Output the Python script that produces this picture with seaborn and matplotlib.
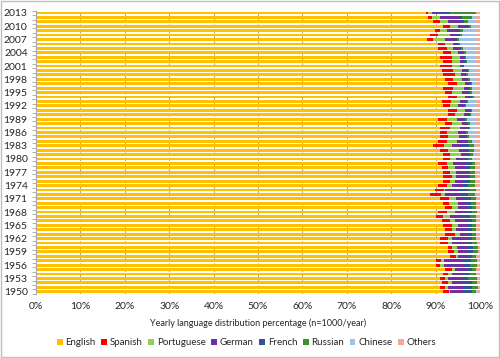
import numpy as np
import pandas as pd
import matplotlib
matplotlib.use("Agg")
import matplotlib.pyplot as plt
import seaborn as sns
from matplotlib.patches import Patch, Rectangle

years = list(range(1950, 2014))
languages = ["English", "Spanish", "Portuguese", "German", "French", "Russian", "Chinese", "Others"]
colors = ["#FFC000", "#FF0000", "#92D050", "#7030A0", "#2F5597", "#3F9130", "#9DC3E6", "#F4A896"]

english = [91.7, 91.0, 91.4, 91.0, 91.7, 92.1, 90.0, 90.2, 93.2, 92.9,
           92.9, 91.0, 91.0, 92.1, 92.1, 91.7, 91.4, 90.2, 90.6, 92.1,
           91.6, 91.0, 88.7, 89.9, 90.6, 91.7, 91.7, 91.7, 91.4, 90.6,
           91.7, 91.7, 91.0, 89.5, 90.6, 91.0, 91.0, 91.0, 92.1, 90.6,
           92.9, 92.9, 91.7, 91.4, 92.9, 92.1, 91.7, 92.9, 92.1, 91.7,
           91.4, 91.0, 91.7, 91.0, 91.7, 90.6, 90.6, 88.0, 88.7, 89.9,
           91.7, 89.5, 88.2, 87.8]
spanish = [1.4, 1.1, 1.5, 1.1, 1.1, 1.5, 1.1, 1.0, 1.5, 1.3,
           0.8, 1.9, 1.9, 2.3, 1.5, 1.9, 1.9, 1.5, 1.9, 1.5,
           1.5, 2.0, 2.6, 1.9, 1.9, 1.5, 1.9, 1.5, 1.5, 1.9,
           1.5, 1.5, 1.9, 2.3, 1.9, 1.9, 1.5, 2.3, 1.5, 1.9,
           1.5, 1.9, 1.5, 2.0, 1.9, 1.5, 2.3, 1.9, 1.9, 2.6,
           2.6, 2.6, 1.9, 2.6, 1.8, 1.9, 1.5, 1.5, 1.9, 1.1,
           1.5, 1.5, 0.9, 0.4]
portuguese = [0.1, 0.8, 0.8, 0.8, 0.8, 0.8, 0.8, 0.6, 0.4, 0.9,
              1.1, 0.8, 0.8, 1.1, 1.1, 1.5, 1.1, 1.5, 1.9, 1.5,
              1.9, 1.5, 0.8, 0.4, 1.1, 1.1, 1.1, 1.5, 1.5, 1.5,
              1.5, 2.6, 2.3, 1.9, 2.3, 2.3, 2.6, 2.3, 2.3, 2.3,
              1.9, 1.9, 1.9, 2.2, 1.9, 2.3, 2.3, 1.9, 1.9, 1.5,
              1.9, 1.9, 1.9, 1.9, 1.5, 1.5, 1.9, 2.6, 2.6, 1.5,
              1.9, 1.9, 1.9, 1.1]
german = [3.0, 3.4, 3.0, 3.0, 2.6, 2.6, 4.4, 4.3, 1.9, 2.3,
          2.6, 3.0, 3.4, 1.9, 1.9, 1.9, 2.6, 2.6, 2.3, 1.9,
          1.9, 1.9, 3.4, 3.0, 2.6, 1.9, 2.3, 2.3, 2.3, 2.6,
          1.5, 1.5, 1.5, 2.3, 2.3, 1.5, 1.5, 1.1, 1.1, 1.5,
          1.1, 1.1, 1.1, 1.2, 1.1, 1.5, 1.1, 1.1, 1.1, 0.8,
          1.1, 0.5, 1.0, 0.8, 1.1, 1.3, 0.8, 2.3, 1.9, 2.6,
          1.8, 3.0, 4.6, 1.3]
french = [1.9, 1.9, 1.5, 1.5, 1.5, 1.1, 1.5, 1.9, 1.1, 1.1,
          1.1, 1.5, 1.1, 0.8, 1.5, 1.1, 1.1, 1.9, 1.5, 1.1,
          1.1, 1.5, 1.9, 2.3, 1.1, 1.5, 0.8, 0.8, 1.1, 1.5,
          1.1, 0.4, 0.8, 1.5, 0.2, 0.3, 0.3, 0.8, 0.4, 0.4,
          0.3, 0.2, 0.4, 0.3, 0.3, 0.3, 0.4, 0.2, 0.4, 0.3,
          0.2, 0.3, 0.3, 0.3, 0.4, 0.4, 0.4, 0.4, 0.4, 0.5,
          0.7, 0.5, 0.3, 2.6]
russian = [1.1, 1.3, 1.1, 1.9, 1.5, 1.1, 1.6, 1.4, 1.1, 1.0,
           1.1, 1.2, 1.0, 1.0, 1.1, 1.1, 1.1, 1.5, 1.1, 1.1,
           1.1, 1.1, 1.5, 1.5, 1.5, 1.1, 1.1, 1.1, 1.1, 0.8,
           0.8, 0.8, 1.1, 1.1, 0.8, 0.5, 0.3, 0.3, 0.3, 0.4,
           0.3, 0.2, 0.3, 0.3, 0.5, 0.4, 0.4, 0.3, 0.4, 0.4,
           0.4, 0.2, 0.3, 0.3, 0.3, 0.4, 0.4, 0.4, 0.4, 0.6,
           0.4, 1.0, 2.2, 5.8]
chinese = [0.2, 0.0, 0.0, 0.0, 0.0, 0.0, 0.0, 0.0, 0.0, 0.0,
           0.0, 0.0, 0.0, 0.0, 0.0, 0.0, 0.0, 0.0, 0.0, 0.0,
           0.1, 0.2, 0.3, 0.2, 0.4, 0.4, 0.3, 0.3, 0.3, 0.3,
           1.1, 0.7, 0.6, 0.6, 1.1, 1.7, 2.0, 1.4, 1.5, 2.1,
           1.2, 0.9, 2.3, 1.8, 0.6, 1.1, 1.0, 0.9, 1.4, 1.9,
           1.6, 2.7, 2.1, 2.3, 2.4, 3.1, 3.6, 4.0, 3.3, 3.0,
           1.2, 1.8, 1.1, 0.2]
others = [0.6, 0.5, 0.7, 0.7, 0.8, 0.8, 0.6, 0.6, 0.8, 0.5,
          0.4, 0.6, 0.8, 0.8, 0.8, 0.8, 0.8, 0.8, 0.7, 0.8,
          0.8, 0.8, 0.8, 0.8, 0.8, 0.8, 0.8, 0.8, 0.8, 0.8,
          0.8, 0.8, 0.8, 0.8, 0.8, 0.8, 0.8, 0.8, 0.8, 0.8,
          0.8, 0.9, 0.8, 0.8, 0.8, 0.8, 0.8, 0.8, 0.8, 0.8,
          0.8, 0.8, 0.8, 0.8, 0.8, 0.8, 0.8, 0.8, 0.8, 0.8,
          0.8, 0.8, 0.8, 0.8]

sns.set_theme(style="white")
plt.rcParams["font.family"] = ["Lato", "DejaVu Sans"]

df = pd.DataFrame({"Year": [str(y) for y in years], "English": english, "Spanish": spanish,
                   "Portuguese": portuguese, "German": german, "French": french,
                   "Russian": russian, "Chinese": chinese, "Others": others})
order = [str(y) for y in years[::-1]]

fig = plt.figure(figsize=(5, 3.58), dpi=100)
ax = fig.add_axes([0.072, 0.179, 0.888, 0.791])
ax.set_axisbelow(True)
ax.xaxis.grid(True, linestyle=(0, (3, 2)), color="#A6A6A6", linewidth=0.8)

cums = []
cum = np.zeros(len(df))
for lang in languages:
    cum = cum + df[lang].to_numpy()
    cums.append(cum.copy())

for lang, c, col in reversed(list(zip(languages, cums, colors))):
    sns.barplot(x=c, y=df["Year"], order=order, orient="h", color=col,
                saturation=1, width=0.64, ax=ax, edgecolor="none", linewidth=0)

ax.set_xlim(0, 100)
ax.set_ylim(len(order) - 0.5, -0.5)
ax.set_xticks(np.arange(0, 101, 10))
ax.set_xticklabels([f"{v}%" for v in range(0, 101, 10)], fontsize=7.5, color="#262626")
ypos = [i for i, y in enumerate(order) if (int(y) - 1950) % 3 == 0]
ax.set_yticks(ypos)
ax.set_yticklabels([order[i] for i in ypos], fontsize=7.5, color="#262626")
ax.set_yticks(np.arange(-0.5, len(order), 1), minor=True)
ax.tick_params(axis="y", which="major", length=0, pad=6)
ax.tick_params(axis="y", which="minor", length=3, color="#A6A6A6", width=0.6, direction="out", left=True)
ax.tick_params(axis="x", length=0, pad=6)
ax.set_xlabel("Yearly language distribution percentage (n=1000/year)", fontsize=6.5, color="#262626", labelpad=5)
ax.set_ylabel("")
for s in ["top", "right", "bottom"]:
    ax.spines[s].set_visible(False)
ax.spines["left"].set_color("#A6A6A6")
ax.spines["left"].set_linewidth(0.8)

handles = [Patch(facecolor=c, edgecolor="none", label=l) for l, c in zip(languages, colors)]
fig.legend(handles=handles, loc="center", bbox_to_anchor=(0.493, 0.042), ncol=8, frameon=False,
           fontsize=7, handlelength=0.6, handleheight=0.6, handletextpad=0.3, columnspacing=0.55,
           labelcolor="#262626")

fig.add_artist(Rectangle((0.002, 0.003), 0.996, 0.994, transform=fig.transFigure, fill=False,
                         edgecolor="#BFBFBF", linewidth=1))

fig.savefig("out.png", dpi=100)
